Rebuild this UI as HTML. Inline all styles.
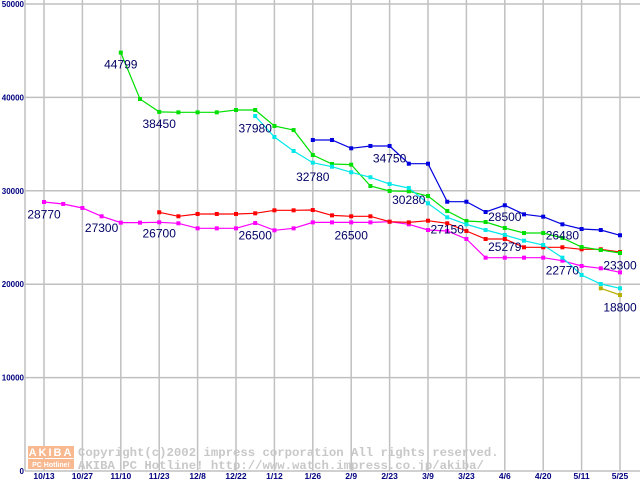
<!DOCTYPE html>
<html><head><meta charset="utf-8"><style>
html,body{margin:0;padding:0;background:#fff;}
svg{display:block;font-family:"Liberation Sans",sans-serif;}
</style></head><body>
<svg id="chart" width="640" height="480" viewBox="0 0 640 480" xmlns="http://www.w3.org/2000/svg">
<g id="grid"></g>
<g id="wm">
  <rect x="28" y="446" width="46" height="12" fill="#f8b890"/>
  <rect x="28" y="459" width="46" height="10" fill="#f8b890"/>
  <text x="51" y="456" font-size="11" fill="#fff" font-weight="bold" text-anchor="middle" letter-spacing="2">AKIBA</text>
  <text x="51" y="467" font-size="7" fill="#fff" font-weight="bold" text-anchor="middle">PC Hotline!</text>
  <text x="78" y="456" font-size="12.3" fill="#c8c8c8" font-family="Liberation Mono,monospace" font-weight="bold">Copyright(c)2002 impress corporation All rights reserved.</text>
  <text x="78" y="469" font-size="12.3" fill="#c8c8c8" font-family="Liberation Mono,monospace" font-weight="bold">AKIBA PC Hotline!  http://www.watch.impress.co.jp/akiba/</text>
</g>
<g id="series"></g>
<g id="labels"></g>
</svg>
<script>
const xLabels=["10/13","10/27","11/10","11/23","12/8","12/22","1/12","1/26","2/9","2/23","3/9","3/23","4/6","4/20","5/11","5/25"];
const yTicks=[0,10000,20000,30000,40000,50000];
const magentaStart=0;
const magentaVals=[28800,28590,28160,27270,26590,26590,26630,26520,25980,25980,25980,26550,25770,25980,26620,26620,26620,26620,26690,26410,25800,25700,24840,22840,22840,22840,22840,22520,21950,21700,21270];
const redStart=6;
const redVals=[27700,27270,27520,27520,27520,27590,27910,27910,27940,27370,27270,27270,26690,26620,26800,26520,25700,24840,24840,23950,23950,23950,23740,23740,23450];
const greenStart=4;
const greenVals=[44799,39830,38450,38400,38400,38400,38650,38650,36940,36500,33830,32870,32800,30510,29980,29950,29440,27840,26770,26660,26020,25480,25480,24950,23980,23660,23340];
const cyanStart=11;
const cyanVals=[38000,35760,34260,33010,32580,31980,31450,30730,30300,28660,27160,26410,25800,25270,24660,24200,22840,20990,20020,19560];
const blueStart=14;
const blueVals=[35440,35440,34550,34800,34800,32900,32900,28830,28830,27730,28450,27480,27230,26410,25910,25800,25240];
const oliveStart=29;
const oliveVals=[19560,18840];
const noteText=["44799","38450","37980","28770","27300","26700","26500","32780","34750","26500","30280","27150","28500","25279","26480","22770","23300","18800"];
const noteIdx=[4,6,11,0,3,6,11,14,18,16,19,21,24,24,27,27,30,30];
const noteVal=[44799,38450,37980,28770,27300,26700,26500,32780,34750,26500,30280,27150,28500,25279,26480,22770,23300,18800];

const NS="http://www.w3.org/2000/svg";
const X0=44, WK=19.2, Y0=471, YMAX=50000, YTOP=4;
function xs(i){return X0+i*WK;}
function ys(v){return Y0-(v/YMAX)*(Y0-YTOP);}
function mk(tag,attrs,parent){const e=document.createElementNS(NS,tag);for(const k in attrs)e.setAttribute(k,attrs[k]);parent.appendChild(e);return e;}
const grid=document.getElementById('grid');
yTicks.forEach(t=>{
  const l=mk('line',{x1:25,x2:640,y1:ys(t),y2:ys(t),stroke:'#c0c0c0','stroke-width':1.5},grid);
  
  
  const tx=mk('text',{x:24,y:ys(t)+3,'font-size':8,'font-weight':'bold',fill:'#000080','text-anchor':'end'},grid);
  tx.textContent=t;
  
  
});
xLabels.forEach((s,k)=>{
  const x=xs(k*2);
  const l=mk('line',{x1:x,x2:x,y1:0,y2:471,stroke:'#c0c0c0','stroke-width':1.5},grid);
  
  
  const tx=mk('text',{x:x,y:479,'font-size':8.5,'font-weight':'bold',fill:'#000080','text-anchor':'middle'},grid);
  tx.textContent=s;
  
  
});
const ax=mk('line',{x1:25,x2:25,y1:0,y2:471,stroke:'#c0c0c0','stroke-width':1.5},grid);


const ser=document.getElementById('series');
function draw(name,start,vals,color){
  const g=mk('g',{},ser);
  
  
  const pts=vals.map((v,i)=>xs(start+i).toFixed(1)+','+ys(v).toFixed(1)).join(' ');
  const pl=mk('polyline',{points:pts,fill:'none',stroke:color,'stroke-width':1.2},g);
  
  
  vals.forEach((v,i)=>{
    const r=mk('rect',{x:xs(start+i)-2,y:ys(v)-2,width:4,height:4,fill:color},g);
    
    
  });
}
draw('magenta-series',magentaStart,magentaVals,'#ff00ff');
draw('red-series',redStart,redVals,'#ff0000');
draw('green-series',greenStart,greenVals,'#00e000');
draw('cyan-series',cyanStart,cyanVals,'#00e8e8');
draw('blue-series',blueStart,blueVals,'#0000e0');
draw('olive-series',oliveStart,oliveVals,'#b8b000');
const lab=document.getElementById('labels');
noteText.forEach((s,i)=>{
  let x=xs(noteIdx[i]);
  const t=mk('text',{x:Math.min(x,620),y:ys(noteVal[i])+16,'font-size':12,fill:'#000066','text-anchor':'middle'},lab);
  t.textContent=s;
  
  
});
</script>
</body></html>
